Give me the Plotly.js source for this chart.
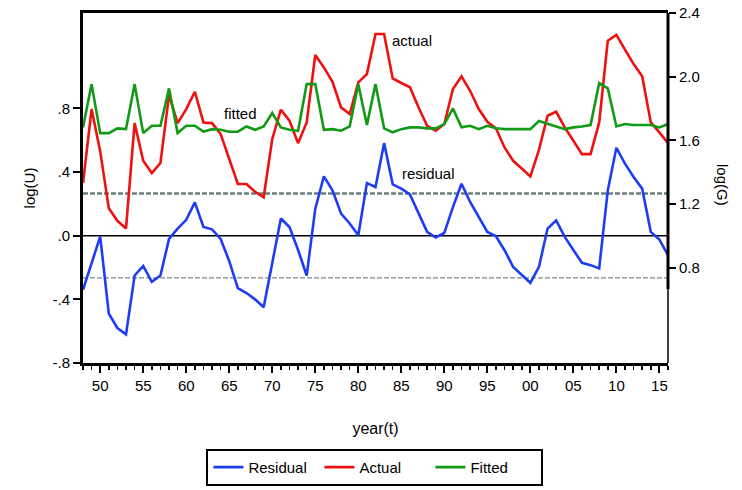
<!DOCTYPE html>
<html>
<head>
<meta charset="utf-8">
<script src="https://cdn.plot.ly/plotly-3.0.1.min.js"></script>
<style>html,body{margin:0;padding:0;background:#fff;}#chart{width:742px;height:490px;}</style>
</head>
<body>
<div id="chart"></div>
<script>
const years = [];
for (let y = 1948; y <= 2016; y++) years.push(y);

const residual = [-0.34,-0.17,-0.005,-0.49,-0.58,-0.62,-0.25,-0.19,-0.29,-0.25,
  -0.02,0.045,0.10,0.21,0.055,0.04,-0.02,-0.16,-0.33,-0.36,
  -0.40,-0.45,-0.175,0.108,0.055,-0.09,-0.25,0.17,0.373,0.285,
  0.139,0.077,0.003,0.331,0.306,0.582,0.323,0.296,0.26,0.143,
  0.024,-0.011,0.018,0.18,0.327,0.212,0.118,0.024,-0.003,-0.091,
  -0.196,-0.248,-0.296,-0.196,0.045,0.097,-0.007,-0.09,-0.17,-0.185,
  -0.206,0.285,0.553,0.453,0.369,0.296,0.024,-0.024,-0.122];

const actual = [1.331,1.796,1.53,1.172,1.094,1.046,1.708,1.471,1.394,1.457,
  1.884,1.708,1.796,1.905,1.712,1.708,1.639,1.48,1.325,1.325,
  1.276,1.241,1.608,1.792,1.723,1.582,1.712,2.136,2.058,1.968,
  1.807,1.765,1.964,2.016,2.268,2.268,1.989,1.96,1.933,1.807,
  1.691,1.66,1.702,1.922,2.002,1.911,1.796,1.716,1.675,1.555,
  1.471,1.423,1.373,1.54,1.754,1.779,1.681,1.597,1.513,1.513,
  1.712,2.226,2.262,2.17,2.079,2.002,1.712,1.65,1.582];

const fitted = [1.681,1.953,1.645,1.645,1.675,1.67,1.953,1.645,1.691,1.691,
  1.926,1.645,1.691,1.691,1.654,1.67,1.666,1.654,1.654,1.687,
  1.666,1.687,1.771,1.681,1.666,1.66,1.953,1.953,1.666,1.67,
  1.66,1.687,1.953,1.696,1.953,1.675,1.65,1.67,1.681,1.681,
  1.675,1.675,1.702,1.8,1.681,1.691,1.67,1.691,1.675,1.67,
  1.67,1.67,1.67,1.721,1.702,1.687,1.67,1.681,1.687,1.696,
  1.96,1.926,1.687,1.702,1.696,1.696,1.696,1.681,1.702];

const xTickVals = [1950,1955,1960,1965,1970,1975,1980,1985,1990,1995,2000,2005,2010,2015];
const xTickText = ["50","55","60","65","70","75","80","85","90","95","00","05","10","15"];
const leftTickVals = [-0.8,-0.4,0,0.4,0.8];
const leftTickText = ["-.8","-.4",".0",".4",".8"];
const rightTickVals = [0.8,1.2,1.6,2.0,2.4];
const rightTickText = ["0.8","1.2","1.6","2.0","2.4"];
const seBand = 0.265;

const FONT = "Liberation Sans, Arial, sans-serif";

const traces = [
  {x: years, y: residual, name: "Residual", type: "scatter", mode: "lines",
   line: {color: "#1f3cf5", width: 2.6}, yaxis: "y"},
  {x: years, y: actual, name: "Actual", type: "scatter", mode: "lines",
   line: {color: "#f01010", width: 2.6}, yaxis: "y2"},
  {x: years, y: fitted, name: "Fitted", type: "scatter", mode: "lines",
   line: {color: "#119a16", width: 2.6}, yaxis: "y2"}
];

const layout = {
  width: 742, height: 490,
  margin: {l: 83, r: 74, t: 13, b: 127, autoexpand: false},
  paper_bgcolor: "#fff", plot_bgcolor: "#fff",
  font: {family: FONT, size: 15, color: "#000"},
  showlegend: true,
  legend: {orientation: "h", x: 0.499, xanchor: "center", y: -0.351, yanchor: "bottom",
           bordercolor: "#000", borderwidth: 2, font: {family: FONT, size: 15, color: "#000"},
           traceorder: "normal", entrywidth: 66, entrywidthmode: "pixels"},
  xaxis: {range: [1948, 2016], showgrid: false, zeroline: false,
          showline: true, linecolor: "#000", linewidth: 3, mirror: true,
          tickmode: "array", tickvals: xTickVals, ticktext: xTickText,
          ticks: "outside", ticklen: 7, tickwidth: 2, tickcolor: "#000",
          minor: {dtick: 1, tick0: 1948, ticks: "outside", ticklen: 4, tickwidth: 1.5, tickcolor: "#000", showgrid: false},
          tickfont: {family: FONT, size: 15},
          title: {text: "year(t)", standoff: 30, font: {family: FONT, size: 16}}},
  yaxis: {range: [-0.8, 1.4], showgrid: false, zeroline: false,
          showline: true, linecolor: "#000", linewidth: 3,
          tickmode: "array", tickvals: leftTickVals, ticktext: leftTickText,
          ticks: "outside", ticklen: 7, tickwidth: 2, tickcolor: "#000",
          tickfont: {family: FONT, size: 15},
          title: {text: "log(U)", standoff: 14, font: {family: FONT, size: 15}}},
  yaxis2: {range: [0.2, 2.4], overlaying: "y", side: "right", showgrid: false, zeroline: false,
           showline: false,
           tickmode: "array", tickvals: rightTickVals, ticktext: rightTickText,
           ticks: "outside", ticklen: 7, tickwidth: 2, tickcolor: "#000",
           tickfont: {family: FONT, size: 15}},
  shapes: [
    {type: "line", xref: "paper", x0: 0, x1: 1, yref: "y", y0: 0, y1: 0,
     line: {color: "#000", width: 1.6}, layer: "below"},
    {type: "line", xref: "paper", x0: 0, x1: 1, yref: "y", y0: seBand, y1: seBand,
     line: {color: "#6c7d7d", width: 2.6, dash: "5px,2px"}, layer: "below"},
    {type: "line", xref: "paper", x0: 0, x1: 1, yref: "y", y0: -seBand, y1: -seBand,
     line: {color: "#7a8a8a", width: 1.4, dash: "5px,2px"}, layer: "below"},
    {type: "line", xref: "paper", x0: 1, x1: 1, yref: "y2", y0: 2.4, y1: 0.664,
     line: {color: "#000", width: 3}},
    {type: "line", xref: "paper", x0: 1, x1: 1, yref: "y2", y0: 0.664, y1: 0.2,
     line: {color: "#000", width: 1.5}}
  ],
  annotations: [
    {text: "actual", xref: "x", yref: "y2", x: 1983.7, y: 2.23, xanchor: "left", yanchor: "middle",
     showarrow: false, font: {family: FONT, size: 15, color: "#000"}},
    {text: "fitted", xref: "x", yref: "y2", x: 1966.25, y: 1.771, xanchor: "center", yanchor: "middle",
     showarrow: false, font: {family: FONT, size: 15, color: "#000"}},
    {text: "residual", xref: "x", yref: "y", x: 1984.9, y: 0.394, xanchor: "left", yanchor: "middle",
     showarrow: false, font: {family: FONT, size: 15, color: "#000"}},
    {text: "log(G)", xref: "paper", yref: "paper", x: 1.092, y: 0.509, xanchor: "center", yanchor: "middle",
     textangle: 90, showarrow: false, font: {family: FONT, size: 15, color: "#000"}}
  ]
};

Plotly.newPlot("chart", traces, layout, {displayModeBar: false, staticPlot: true});
</script>
</body>
</html>
